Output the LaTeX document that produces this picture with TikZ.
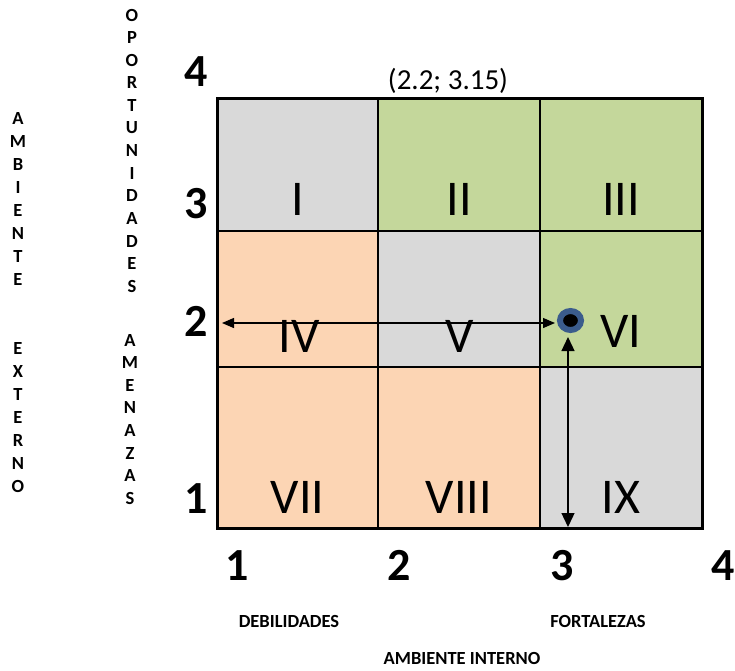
\documentclass[tikz,border=0pt]{standalone}
\usepackage{fontspec}
\setmainfont{Carlito}
\usetikzlibrary{arrows.meta,shapes.geometric}
\definecolor{cgray}{HTML}{D9D9D9}
\definecolor{cgreen}{HTML}{C4D79B}
\definecolor{cpeach}{HTML}{FCD5B4}
\definecolor{dotblue}{RGB}{59,92,140}
\begin{document}
\begin{tikzpicture}[x=1pt,y=-1pt,
 cell/.style={draw=black, line width=2.5pt, inner sep=0pt, outer sep=0pt, anchor=north west},
 roman/.style={font=\fontsize{50}{50}\selectfont, anchor=base, inner sep=0pt},
 axnum/.style={font=\fontsize{46}{46}\selectfont\bfseries, anchor=base, inner sep=0pt},
 lab/.style={font=\fontsize{18.5}{20}\selectfont\bfseries, anchor=base, inner sep=0pt},
 vlet/.style={font=\fontsize{18.5}{20}\selectfont\bfseries, inner sep=0pt},
 harr/.style={{Triangle[length=12pt,width=10pt]}-{Triangle[length=12pt,width=10pt]}, line width=1.3pt},
 varr/.style={{Triangle[length=14pt,width=13pt]}-{Triangle[length=14pt,width=13pt]}, line width=1.3pt}]
\useasboundingbox[fill=white] (0,0) rectangle (735,670);
% cells
\node[cell, fill=cgray,  minimum width=161pt, minimum height=133pt] (c1) at (217,98) {};
\node[cell, fill=cgreen, minimum width=162pt, minimum height=133pt] (c2) at (378,98) {};
\node[cell, fill=cgreen, minimum width=162pt, minimum height=133pt] (c3) at (540,98) {};
\node[cell, fill=cpeach, minimum width=161pt, minimum height=136pt] (c4) at (217,231) {};
\node[cell, fill=cgray,  minimum width=162pt, minimum height=136pt] (c5) at (378,231) {};
\node[cell, fill=cgreen, minimum width=162pt, minimum height=136pt] (c6) at (540,231) {};
\node[cell, fill=cpeach, minimum width=161pt, minimum height=161pt] (c7) at (217,367) {};
\node[cell, fill=cpeach, minimum width=162pt, minimum height=161pt] (c8) at (378,367) {};
\node[cell, fill=cgray,  minimum width=162pt, minimum height=161pt] (c9) at (540,367) {};
\draw[line width=3pt] (c1.north west) rectangle (c9.south east);
% roman labels
\node[roman] (l1) at (297.5,215) {I};
\node[roman] (l2) at (459,215) {II};
\node[roman] (l3) at (621,215) {III};
\node[roman] (l4) at (299,352) {IV};
\node[roman] (l5) at (460,352) {V};
\node[roman] (l6) at (621,347) {VI};
\node[roman] (l7) at (297.5,513) {VII};
\node[roman] (l8) at (459,513) {VIII};
\node[roman] (l9) at (621,513) {IX};
% axis numbers
\node[axnum] (y4) at (196,86) {4};
\node[axnum] (y3) at (196,218) {3};
\node[axnum] (y2) at (196,336) {2};
\node[axnum] (y1) at (196,513) {1};
\node[axnum] (x1) at (237,580) {1};
\node[axnum] (x2) at (399,580) {2};
\node[axnum] (x3) at (562,580) {3};
\node[axnum] (x4) at (723,580) {4};
% coordinate label
\node[font=\fontsize{29}{30}\selectfont, anchor=base, inner sep=0pt] (pl) at (448,89) {(2.2; 3.15)};
% axis titles
\node[lab] (deb) at (289,627) {DEBILIDADES};
\node[lab] (fort) at (598,627) {FORTALEZAS};
\node[lab] (ai) at (462,664) {AMBIENTE INTERNO};
% vertical texts
\foreach \l [count=\i] in {A,M,B,I,E,N,T,E}
  \node[vlet] (ae\i) at (18,{118+23*(\i-1)}) {\l};
\foreach \l [count=\i] in {E,X,T,E,R,N,O}
  \node[vlet] (ee\i) at (18,{348+23*(\i-1)}) {\l};
\foreach \l [count=\i] in {O,P,O,R,T,U,N,I,D,A,D,E,S}
  \node[vlet] (op\i) at (132,{15+22.6*(\i-1)}) {\l};
\foreach \l [count=\i] in {A,M,E,N,A,Z,A,S}
  \node[vlet] (am\i) at (130,{340+22.6*(\i-1)}) {\l};
% point and arrows
\node[ellipse, fill=black, draw=dotblue, line width=6pt, inner sep=0pt,
      minimum width=21pt, minimum height=19pt] (pt) at (570.5,320.5) {};
\coordinate (hL) at (222,323);
\coordinate (hR) at (555,323);
\coordinate (vT) at (568,337);
\coordinate (vB) at (568,527);
\draw[harr] (hL) -- (hR);
\draw[varr] (vT) -- (vB);
\end{tikzpicture}
\end{document}
